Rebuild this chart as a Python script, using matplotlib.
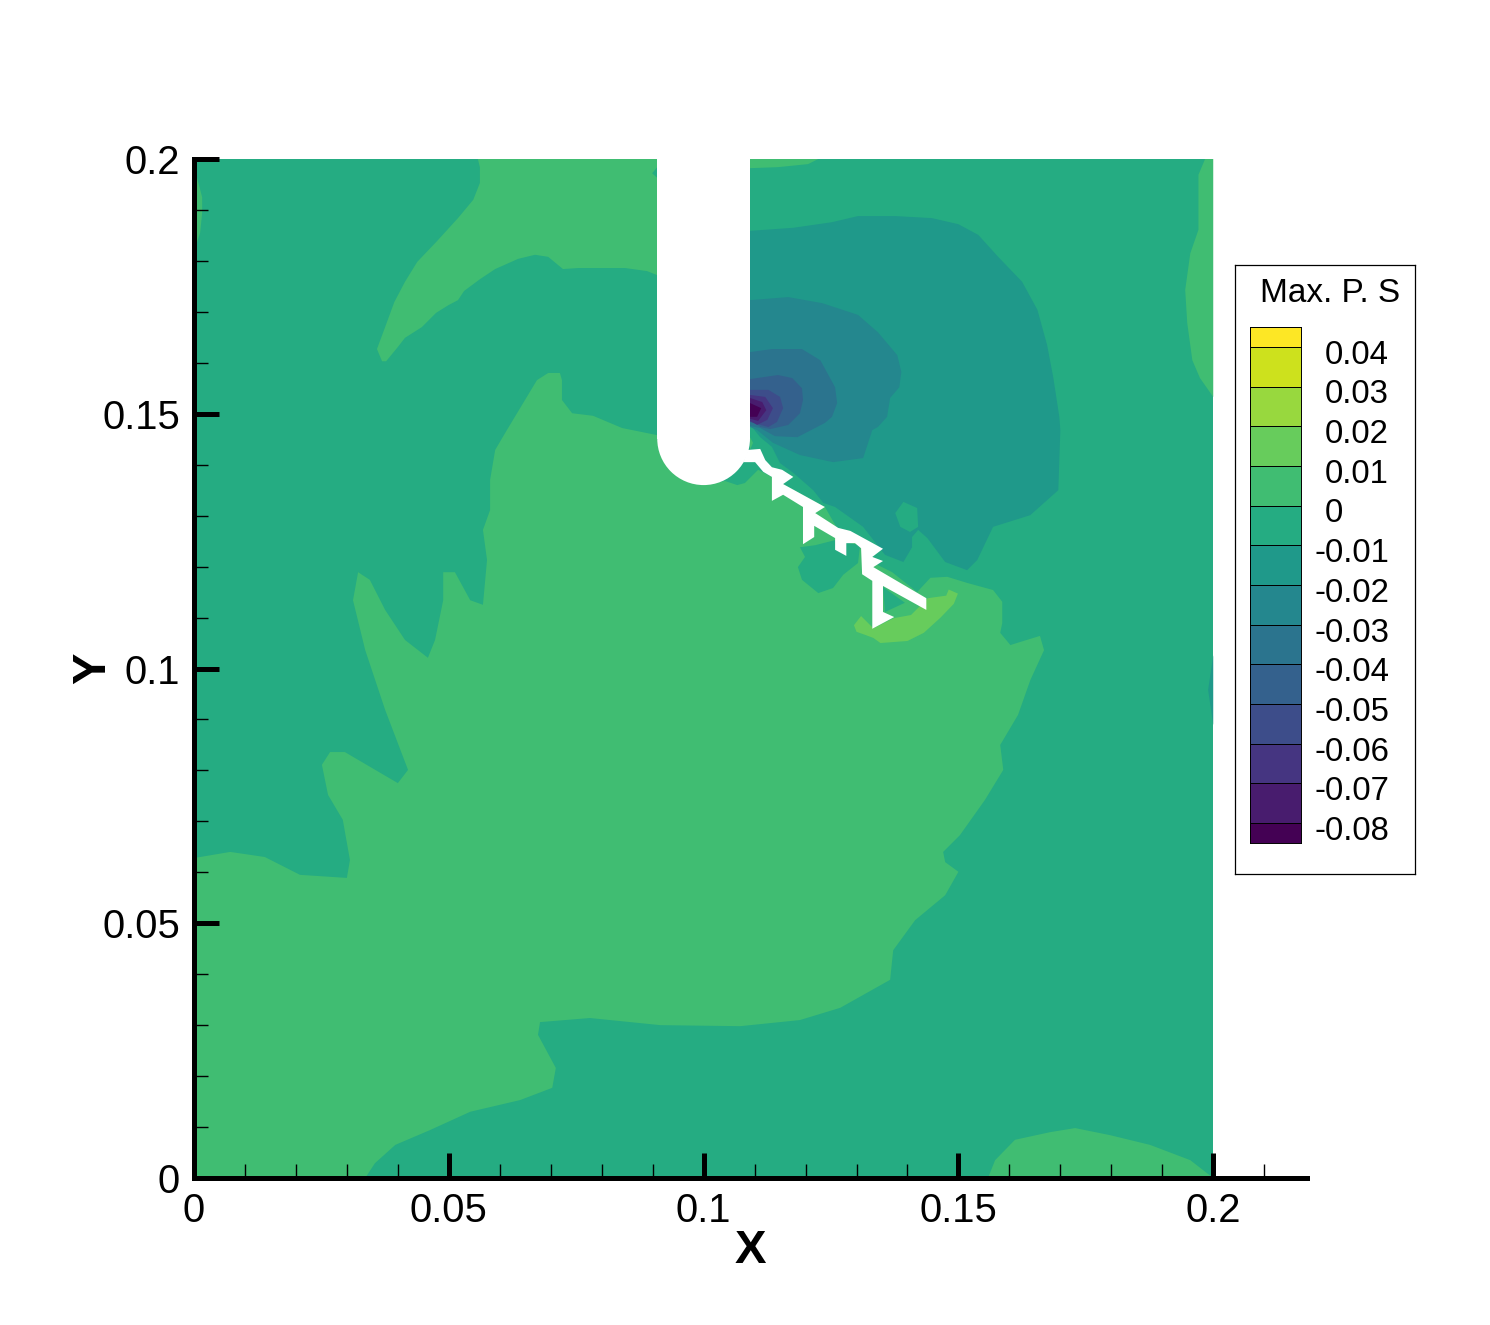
import numpy as np
from matplotlib import pyplot as plt
from matplotlib.patches import Rectangle, Wedge

plt.rcParams['font.family'] = ['Liberation Sans', 'DejaVu Sans']

# contour band edges and legend labels
levels = [-0.085, -0.08, -0.07, -0.06, -0.05, -0.04, -0.03, -0.02, -0.01, 0, 0.01, 0.02, 0.03, 0.04, 0.045]
level_labels = ['-0.08', '-0.07', '-0.06', '-0.05', '-0.04', '-0.03', '-0.02', '-0.01', '0', '0.01', '0.02', '0.03', '0.04']
level_values = [-0.08, -0.07, -0.06, -0.05, -0.04, -0.03, -0.02, -0.01, 0, 0.01, 0.02, 0.03, 0.04]

# contour outlines, x and y in units of 1e-3
main_x = [0, 7.1, 13.9, 20.8, 30.0, 30.6, 29.2, 26.3, 25.1, 26.7, 29.6, 40.0, 42.0, 37.5, 33.6, 31.2, 32.2, 34.5, 37.5, 41.4,
          45.9, 47.3, 48.9, 48.9, 51.2, 54.2, 56.7, 57.5, 56.7, 58.1, 58.1, 59.1, 61.4, 67.3, 69.5, 71.8, 72.2, 72.2, 74.2, 78.3, 84.0, 90.9,
          99.9, 99.3, 104.2, 106.6, 108.1, 110.7, 113.4, 115.6, 123.8, 126.4, 128.8, 133.3, 134.2, 137.0, 141.9, 144.5, 147.8, 151.7, 156.8, 158.6,
          158.6, 158.2, 160.2, 162.1, 166.0, 166.8, 164.1, 161.7, 158.2, 158.8, 155.2, 150.3, 147.0, 147.4, 150.0, 147.4, 141.5, 137.2, 136.6, 126.8,
          118.9, 107.2, 91.5, 77.7, 67.9, 67.5, 71.0, 70.3, 64.0, 54.2, 46.3, 39.5, 35.5, 33.6, 0]
main_y = [62.8, 64.0, 63.0, 59.5, 58.9, 62.4, 70.3, 75.2, 81.1, 83.6, 83.6, 77.5, 80.1, 91.9, 103.6, 113.4, 118.9, 117.4, 111.5, 105.6,
          102.1, 105.6, 113.4, 118.9, 118.9, 113.4, 112.5, 121.3, 127.2, 131.1, 137.0, 142.9, 146.8, 156.6, 158.0, 158.0, 156.6, 152.7, 150.1, 149.6, 147.2, 145.8,
          139.0, 136.0, 136.8, 136.0, 136.4, 139.0, 137.6, 136.2, 131.7, 127.2, 127.0, 121.3, 120.3, 118.9, 115.0, 117.8, 118.0, 116.8, 115.4, 113.1,
          108.9, 107.0, 104.6, 105.2, 106.4, 103.6, 97.7, 90.9, 85.0, 80.1, 74.2, 67.3, 64.0, 62.0, 60.1, 55.5, 50.6, 44.7, 38.9, 33.4,
          31.0, 29.8, 30.0, 31.4, 30.6, 28.1, 21.6, 17.7, 15.3, 13.0, 9.4, 6.5, 2.9, 0, 0]

upper_x = [55.7, 56.1, 56.1, 54.8, 51.8, 47.7, 43.8, 41.4, 39.3, 37.5, 35.9, 36.9, 37.7, 40.0, 41.4, 44.7, 47.5, 49.9, 51.8, 53.0,
           56.1, 59.1, 63.6, 66.9, 69.5, 72.4, 75.4, 78.7, 84.6, 88.9, 90.9, 90.9]
upper_y = [200, 198.4, 195.3, 192.0, 188.4, 183.9, 179.8, 175.9, 171.9, 167.0, 162.7, 160.3, 160.3, 163.1, 164.9, 167.0, 169.8, 171.3, 172.3, 174.1,
           176.4, 178.4, 180.4, 181.2, 180.8, 178.4, 178.6, 178.6, 178.6, 178.0, 177.2, 200]

top_spot_x = [90.9, 89.9, 90.9]
top_spot_y = [198.4, 197.2, 196.3]

top_sliver_x = [109.1, 122.5, 120.5, 114.6, 109.1]
top_sliver_y = [200, 200, 199.0, 198.4, 198.2]

left_sliver_x = [0, 0.6, 1.6, 1.6, 1.2, 0.6, 0]
left_sliver_y = [198.0, 196.3, 192.5, 189.4, 185.5, 183.7, 183.0]

right_strip_x = [200, 198.4, 197.1, 197.1, 195.5, 194.5, 194.9, 195.9, 197.4, 200]
right_strip_y = [200, 200, 196.9, 186.1, 181.5, 174.3, 167.8, 160.5, 157.0, 153.3]

bottom_bump_x = [155.8, 157.2, 161.1, 168.0, 172.9, 179.8, 187.6, 195.5, 200]
bottom_bump_y = [0, 3.5, 7.5, 9.0, 9.8, 8.4, 6.5, 3.5, 0]

tip_green_x = [109.1, 109.7, 109.1]
tip_green_y = [145.4, 144.3, 142.9]

island_x = [118.9, 119.9, 118.5, 119.3, 122.5, 125.4, 127.4, 130.3, 130.7, 125.8, 121.9]
island_y = [123.8, 121.9, 119.9, 117.4, 114.8, 115.8, 118.4, 120.7, 124.2, 125.2, 124.2]

triangle_x = [135.2, 139.5, 135.6]
triangle_y = [116.0, 112.9, 111.1]

bright_x = [129.5, 130.9, 133.3, 137.4, 140.7, 144.0, 147.6, 148.1, 149.9, 149.1, 146.5, 143.2, 140.0, 134.7, 133.3, 131.7, 130.0]
bright_y = [108.5, 110.3, 107.9, 109.9, 110.5, 113.8, 114.3, 115.5, 114.7, 112.7, 110.0, 107.0, 105.4, 105.0, 106.0, 106.6, 107.2]

band2_x = [109.1, 117.6, 125.2, 130.3, 137.6, 144.8, 150.0, 153.9, 157.8, 162.5, 165.5, 167.4, 168.6, 169.8, 170.0, 169.6, 164.1, 156.8, 153.7, 151.7,
           147.4, 143.9, 142.1, 140.9, 140.9, 139.2, 135.6, 131.3, 125.8, 123.5, 121.5, 117.6, 115.0, 113.4, 111.1, 109.5, 109.1]
band2_y = [185.9, 186.5, 187.6, 188.8, 188.8, 188.4, 187.2, 185.1, 180.8, 175.9, 170.4, 163.5, 157.2, 149.4, 146.8, 135.0, 130.1, 127.8, 121.3, 119.3,
           120.9, 125.6, 127.2, 125.8, 123.8, 120.9, 122.3, 127.8, 131.7, 132.5, 135.0, 138.4, 140.3, 143.5, 145.4, 147.4, 147.4]

edge_ellipse_x = [200, 199.0, 200]
edge_ellipse_y = [102.6, 95.8, 88.9]

blob_x = [137.6, 139.2, 141.9, 142.1, 140.5, 138.6]
blob_y = [130.5, 132.7, 131.5, 127.8, 126.8, 127.8]

band3_x = [109.1, 116.6, 123.3, 130.3, 134.2, 138.0, 138.8, 138.4, 136.6, 136.0, 134.2, 133.1, 131.3, 125.4, 118.9, 113.6, 110.5, 109.1]
band3_y = [172.3, 172.9, 171.7, 169.4, 166.0, 161.5, 158.2, 155.2, 153.1, 149.4, 147.4, 146.8, 141.3, 140.5, 141.9, 144.3, 146.8, 147.4]

band4_x = [109.1, 113.4, 119.3, 122.9, 125.8, 126.2, 125.2, 123.8, 118.4, 114.0, 111.1, 109.1]
band4_y = [162.1, 162.7, 162.7, 160.5, 155.2, 152.1, 149.4, 148.2, 145.4, 145.6, 147.2, 147.6]

band5_x = [109.1, 114.6, 117.4, 119.3, 119.5, 118.9, 116.6, 113.1, 111.1, 109.1]
band5_y = [156.8, 157.6, 157.0, 155.0, 152.7, 150.1, 147.8, 147.0, 147.4, 149.2]

band6_x = [109.1, 112.7, 115.0, 115.6, 114.4, 112.7, 109.1]
band6_y = [154.7, 154.7, 153.3, 151.1, 148.4, 147.4, 148.4]

band7_x = [109.1, 112.1, 113.6, 112.5, 110.5, 109.1]
band7_y = [153.7, 153.3, 151.1, 148.8, 147.8, 148.6]

band8_x = [109.1, 111.5, 112.3, 110.7, 109.1]
band8_y = [153.1, 152.3, 150.7, 148.6, 149.0]

band9_x = [109.1, 111.3, 110.5, 109.1]
band9_y = [152.1, 151.1, 149.4, 149.4]

# the crack with its branches
crack_x = [108.7, 111.1, 112.1, 113.4, 115.4, 117.6, 115.6, 123.8, 121.9, 126.4, 128.8, 135.2, 133.1, 135.2, 133.3, 143.7, 143.7, 135.2, 135.2, 137.4,
           133.1, 133.1, 131.1, 130.9, 129.7, 128.0, 128.0, 125.8, 125.8, 121.7, 121.7, 119.5, 119.5, 115.6, 113.4, 113.4, 111.7, 110.1, 107.8]
crack_y = [142.9, 143.1, 140.9, 139.5, 139.0, 137.6, 136.2, 131.7, 130.5, 127.6, 127.0, 123.5, 121.9, 121.1, 119.9, 113.8, 111.5, 116.2, 111.1, 110.1,
           107.8, 117.2, 118.5, 123.6, 124.6, 124.6, 122.1, 123.3, 125.6, 128.0, 125.8, 124.4, 131.7, 134.1, 132.9, 137.6, 138.6, 140.5, 140.5]

# slot cut in from the top
slot_left = 0.0909
slot_right = 0.1091
slot_top = 0.2
slot_centre_y = 0.1451

# (band index, x, y) painted in this order
regions = [(9, main_x, main_y), (9, upper_x, upper_y), (8, top_spot_x, top_spot_y), (9, top_sliver_x, top_sliver_y), (9, left_sliver_x, left_sliver_y),
           (9, right_strip_x, right_strip_y), (9, bottom_bump_x, bottom_bump_y), (8, island_x, island_y), (8, triangle_x, triangle_y),
           (10, bright_x, bright_y), (7, band2_x, band2_y), (7, edge_ellipse_x, edge_ellipse_y), (8, blob_x, blob_y),
           (6, band3_x, band3_y), (5, band4_x, band4_y), (4, band5_x, band5_y), (3, band6_x, band6_y), (2, band7_x, band7_y),
           (1, band8_x, band8_y), (0, band9_x, band9_y), (9, tip_green_x, tip_green_y)]

W, H = 1490, 1325
n_bands = len(levels) - 1
band_colors = [plt.cm.viridis(i / (n_bands - 1)) for i in range(n_bands)]

fig = plt.figure(figsize=(W / 100, H / 100), dpi=100)
ax = fig.add_axes([194 / W, (H - 1178) / H, (1307 - 194) / W, (1178 - 159) / H])
ax.set_xlim(0, 0.2184)
ax.set_ylim(0, 0.2)
ax.set_axisbelow(False)

ax.add_patch(Rectangle((0, 0), 0.2, 0.2, facecolor=band_colors[8], edgecolor='none', zorder=1))
for band, xs, ys in regions:
    ax.fill(np.array(xs) * 1e-3, np.array(ys) * 1e-3, color=band_colors[band], linewidth=0, zorder=1.2)

ax.fill(np.array(crack_x) * 1e-3, np.array(crack_y) * 1e-3, color='white', linewidth=0, zorder=1.4)
ax.add_patch(Rectangle((slot_left, slot_centre_y), slot_right - slot_left, slot_top - slot_centre_y,
                       facecolor='white', edgecolor='none', zorder=1.4))
ax.add_patch(Wedge((0.1, slot_centre_y), (slot_right - slot_left) / 2, 180, 360, facecolor='white', edgecolor='none', zorder=1.4))

for side in ['top', 'right']:
    ax.spines[side].set_visible(False)
for side in ['left', 'bottom']:
    ax.spines[side].set_linewidth(3.6)
    ax.spines[side].set_zorder(5)

ax.set_xticks([0, 0.05, 0.1, 0.15, 0.2])
ax.set_xticklabels(['0', '0.05', '0.1', '0.15', '0.2'])
ax.set_yticks([0, 0.05, 0.1, 0.15, 0.2])
ax.set_yticklabels(['0', '0.05', '0.1', '0.15', '0.2'])
ax.set_xticks(np.arange(1, 22) * 0.01, minor=True)
ax.set_yticks(np.arange(1, 20) * 0.01, minor=True)
ax.tick_params(which='major', direction='in', length=18, width=3.6, labelsize=28.8, pad=10)
ax.tick_params(which='minor', direction='in', length=10, width=1)
ax.set_xlabel('X', fontsize=34, fontweight='bold', labelpad=0)
ax.set_ylabel('Y', fontsize=34, fontweight='bold', labelpad=0)
ax.xaxis.set_label_coords(0.5, -0.05)
ax.yaxis.set_label_coords(-0.071, 0.5)

# legend box
box = fig.add_axes([1235 / W, (H - 874) / H, 180 / W, 609 / H])
box.set_xticks([])
box.set_yticks([])
for s in box.spines.values():
    s.set_linewidth(0.9)
box.text(25 / 180, 1 - 29 / 609, 'Max. P. S', fontsize=24, ha='left', va='center', transform=box.transAxes)

bar = fig.add_axes([1250 / W, (H - 843) / H, 51 / W, 516 / H])
bar.pcolormesh([0, 1], levels, np.arange(n_bands).reshape(-1, 1), cmap='viridis', edgecolors='black', linewidth=0.5)
bar.set_xticks([])
bar.set_yticks([])
for s in bar.spines.values():
    s.set_linewidth(0.7)
for val, lab in zip(level_values, level_labels):
    offset = 10 if lab.startswith('-') else 17.3
    bar.annotate(lab, xy=(1, val), xycoords=('axes fraction', 'data'), xytext=(offset, -6), textcoords='offset points',
                 fontsize=23.7, ha='left', va='center', annotation_clip=False)

plt.savefig('out.png', dpi=100)
